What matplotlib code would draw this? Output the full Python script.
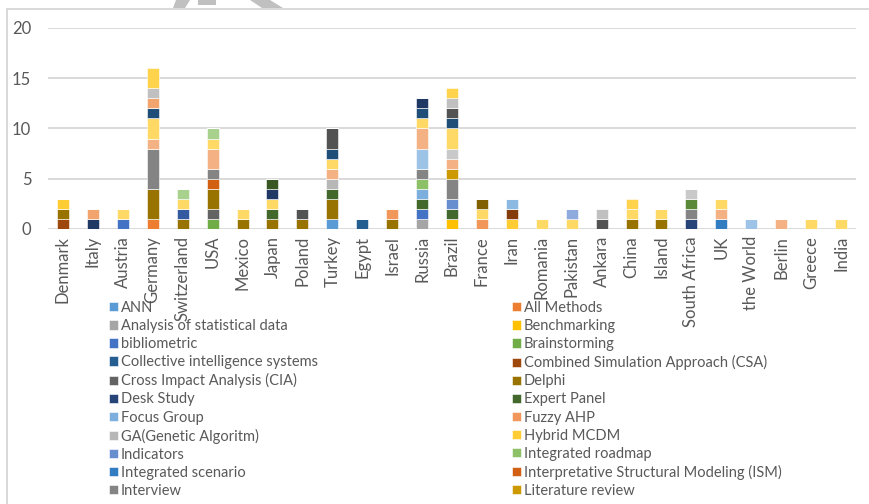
import colorsys
import matplotlib
matplotlib.use("Agg")
import matplotlib.pyplot as plt
import matplotlib.colors as mcolors
from matplotlib.patches import Polygon, Rectangle
from matplotlib.lines import Line2D
import numpy as np

plt.rcParams['font.family'] = ['Lato', 'DejaVu Sans']

countries = ["Denmark", "Italy", "Austria", "Germany", "Switzerland", "USA",
             "Mexico", "Japan", "Poland", "Turkey", "Egypt", "Israel",
             "Russia", "Brazil", "France", "Iran", "Romania", "Pakistan",
             "Ankara", "China", "Island", "South Africa", "UK", "the World",
             "Berlin", "Greece", "India"]

# methods named in the visible part of the legend (series 1..22)
methods = ["ANN", "All Methods", "Analysis of statistical data",
           "Benchmarking", "bibliometric", "Brainstorming",
           "Collective intelligence systems",
           "Combined Simulation Approach (CSA)",
           "Cross Impact Analysis (CIA)", "Delphi", "Desk Study",
           "Expert Panel", "Focus Group", "Fuzzy AHP",
           "GA(Genetic Algoritm)", "Hybrid MCDM", "Indicators",
           "Integrated roadmap", "Integrated scenario",
           "Interpretative Structural Modeling (ISM)", "Interview",
           "Literature review"]
n_series = 40  # series 23..40 are below the cropped legend

# per country: (series number, count), bottom to top
stacks = [
    [(8, 1), (10, 1), (16, 1)],
    [(35, 1), (38, 1)],
    [(5, 1), (28, 1)],
    [(2, 1), (10, 3), (21, 4), (26, 1), (28, 2), (31, 1), (38, 1), (39, 1), (40, 2)],
    [(10, 1), (23, 1), (28, 1), (30, 1)],
    [(6, 1), (9, 1), (10, 2), (20, 1), (21, 1), (26, 2), (28, 1), (30, 1)],
    [(10, 1), (28, 1)],
    [(10, 1), (12, 1), (28, 1), (35, 1), (36, 1)],
    [(10, 1), (33, 1)],
    [(1, 1), (10, 2), (12, 1), (15, 1), (26, 1), (28, 1), (31, 1), (33, 2)],
    [(7, 1)],
    [(10, 1), (14, 1)],
    [(3, 1), (5, 1), (12, 1), (13, 1), (18, 1), (21, 1), (25, 2), (26, 2), (28, 1), (31, 1), (35, 1)],
    [(4, 1), (12, 1), (17, 1), (21, 2), (22, 1), (26, 1), (27, 1), (28, 2), (31, 1), (33, 1), (39, 1), (40, 1)],
    [(14, 1), (28, 1), (34, 1)],
    [(16, 1), (32, 1), (37, 1)],
    [(28, 1)],
    [(28, 1), (29, 1)],
    [(33, 1), (39, 1)],
    [(10, 1), (28, 1), (40, 1)],
    [(10, 1), (28, 1)],
    [(11, 1), (21, 1), (24, 1), (27, 1)],
    [(19, 1), (26, 1), (28, 1)],
    [(25, 1)],
    [(26, 1)],
    [(28, 1)],
    [(28, 1)],
]

ACCENTS = ['#5B9BD5', '#ED7D31', '#A5A5A5', '#FFC000', '#4472C4', '#70AD47']
LUM = [(1, 0), (0.6, 0), (0.8, 0.2), (0.8, 0), (0.6, 0.4), (0.5, 0),
       (0.7, 0.3), (0.7, 0)]


def office_color(n):
    # excel default series colours: accents, then luminance variants
    r, g, b = mcolors.to_rgb(ACCENTS[(n - 1) % 6])
    mod, off = LUM[(n - 1) // 6]
    h, l, s = colorsys.rgb_to_hls(r, g, b)
    return colorsys.hls_to_rgb(h, min(1.0, l * mod + off), s)


values = np.zeros((n_series, len(countries)))
for j, stack in enumerate(stacks):
    for num, cnt in stack:
        values[num - 1, j] += cnt

W, H = 870, 504
fig = plt.figure(figsize=(W / 100, H / 100), dpi=100)


def fx(px):
    return px / W


def fy(py):
    return 1 - py / H


ax = fig.add_axes([fx(48), fy(229), fx(856 - 48), (229 - 28) / H])
x = np.arange(len(countries))
bottom = np.zeros(len(countries))
handles = []
for i in range(n_series):
    lab = methods[i] if i < len(methods) else '_nolegend_'
    bc = ax.bar(x, values[i], 0.4, bottom=bottom, color=office_color(i + 1),
                edgecolor='white', linewidth=0.4, label=lab, zorder=3)
    handles.append(bc)
    bottom += values[i]

ax.set_xlim(-0.5, len(countries) - 0.5)
ax.set_ylim(0, 20)
ax.set_yticks([0, 5, 10, 15, 20])
ax.yaxis.grid(True, color='#D9D9D9', lw=1.4)
ax.set_axisbelow(True)
for sp in ax.spines.values():
    sp.set_visible(False)
ax.tick_params(axis='both', length=0, colors='#595959', labelsize=12)
ax.tick_params(axis='y', pad=12)
ax.tick_params(axis='x', pad=5)
ax.set_xticks(x)
ax.set_xticklabels(countries, rotation=90)

leg_kw = dict(loc='upper left', frameon=False, borderpad=0, borderaxespad=0,
              handlelength=0.6, handleheight=0.6, handletextpad=0.2,
              labelspacing=0.28, fontsize=10.5, labelcolor='#595959')
fig.legend(handles[0:22:2], methods[0:22:2],
           bbox_to_anchor=(fx(109), fy(301)), **leg_kw)
fig.legend(handles[1:22:2], methods[1:22:2],
           bbox_to_anchor=(fx(512), fy(301)), **leg_kw)

# chart area border
fig.add_artist(Line2D([fx(7), 1], [fy(9), fy(9)], color='#D9D9D9', lw=1.4))
fig.add_artist(Line2D([fx(7), fx(7)], [fy(9), 0], color='#D9D9D9', lw=1.4))

# faint watermark remains at the top edge
wm = '#C0C0C0'
for pts in ([(176, 0), (190, 0), (185, 8), (173, 8)],
            [(250, 0), (270, 0), (283, 8), (262, 8)]):
    fig.add_artist(Polygon([(fx(a), fy(b)) for a, b in pts], closed=True,
                           color=wm, lw=0))
fig.add_artist(Rectangle((fx(198), fy(5)), fx(18), 5 / H, color=wm, lw=0))

fig.savefig('out.png', dpi=100)
